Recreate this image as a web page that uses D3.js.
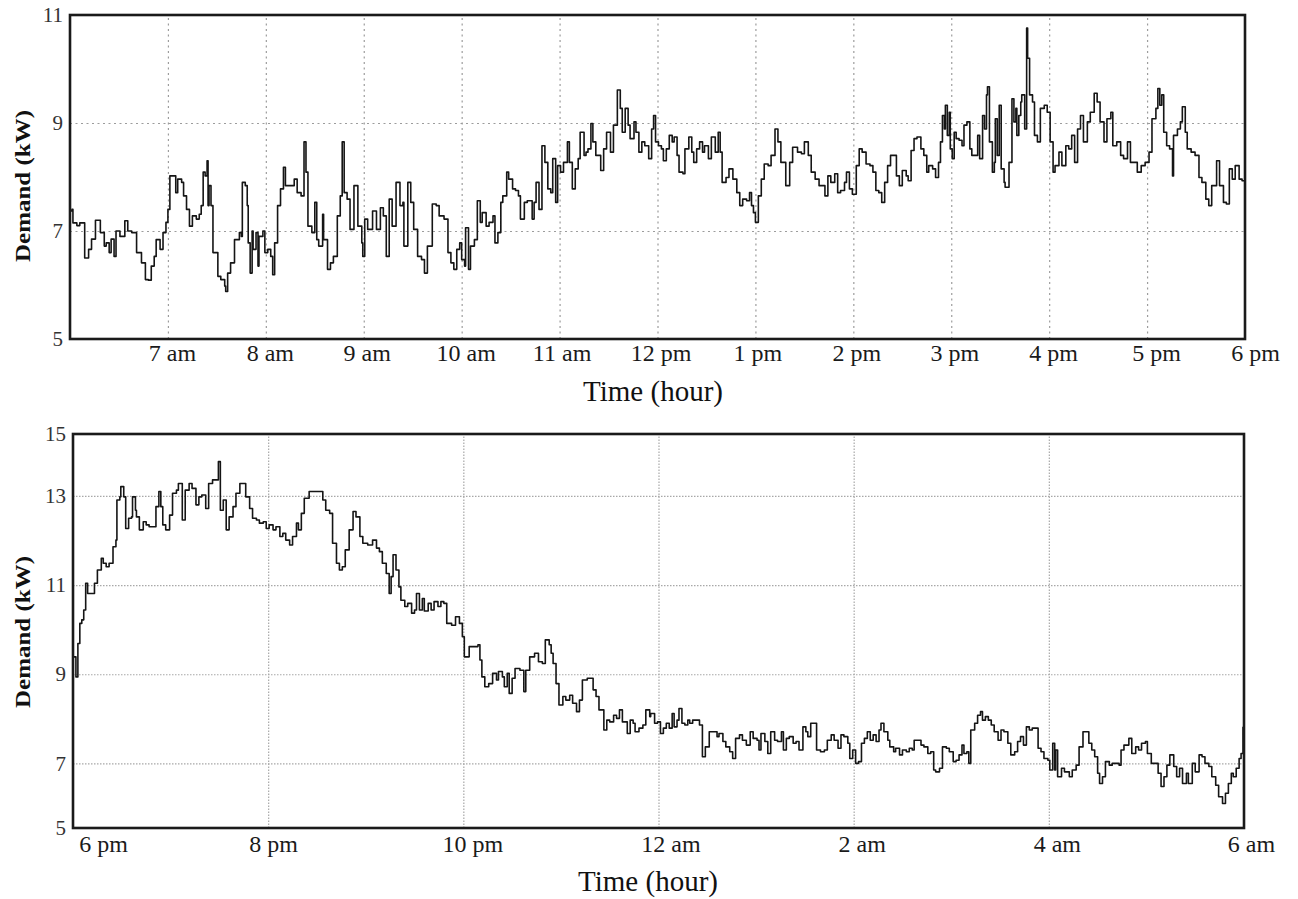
<!DOCTYPE html>
<html><head><meta charset="utf-8">
<script src="https://cdn.jsdelivr.net/npm/d3@7"></script>
<style>
body{margin:0;background:#fff;}
text{font-family:"Liberation Serif","Times New Roman",serif;}
</style>
</head><body>
<svg id="c" width="1298" height="899"></svg>
<script>
// ---------- DATA ----------
// Daytime panel: hours (6 = 6 am, 18 = 6 pm), demand in kW
const topHours = [6.00,6.02,6.03,6.07,6.10,6.15,6.19,6.22,6.26,6.31,6.35,6.37,6.40,6.42,6.45,6.47,6.51,6.56,6.59,6.63,6.68,6.73,6.77,6.80,6.83,6.86,6.88,6.92,6.95,6.98,
7.00,7.02,7.05,7.08,7.10,7.14,7.16,7.19,7.22,7.25,7.29,7.32,7.34,7.36,7.38,7.40,7.41,7.42,7.44,7.46,7.51,7.54,7.58,7.59,7.61,7.64,7.68,7.73,7.75,7.76,7.79,7.81,7.82,7.84,7.86,7.87,7.90,7.92,7.93,7.97,7.99,
8.02,8.05,8.07,8.09,8.12,8.15,8.18,8.20,8.25,8.29,8.32,8.36,8.39,8.41,8.43,8.47,8.50,8.52,8.54,8.58,8.59,8.63,8.66,8.69,8.73,8.76,8.78,8.80,8.83,8.86,8.90,
8.94,8.98,8.99,9.01,9.04,9.09,9.13,9.17,9.20,9.23,9.26,9.29,9.33,9.37,9.40,9.41,9.45,9.48,9.51,9.55,9.59,9.62,9.65,9.70,9.74,9.77,9.82,9.86,9.89,9.92,9.95,9.98,
10.00,10.03,10.04,10.07,10.09,10.13,10.16,10.19,10.21,10.25,10.28,10.32,10.34,10.37,10.40,10.42,10.46,10.48,10.52,10.55,10.58,10.60,10.64,10.67,10.72,10.74,10.76,10.79,10.82,10.85,10.88,10.91,10.93,10.96,10.98,
11.01,11.04,11.08,11.10,11.13,11.16,11.19,11.21,11.25,11.27,11.29,11.32,11.34,11.37,11.42,11.45,11.48,11.52,11.55,11.59,11.62,11.64,11.67,11.70,11.72,11.76,11.78,11.81,11.84,11.87,11.91,
11.94,11.96,11.98,12.01,12.04,12.06,12.09,12.12,12.15,12.17,12.20,12.22,12.26,12.28,12.32,12.35,12.37,12.40,12.43,12.46,12.48,12.52,12.55,12.59,12.62,12.64,12.66,12.70,12.73,12.77,12.81,12.84,12.87,12.91,12.94,12.96,12.98,
13.00,13.03,13.06,13.09,13.13,13.16,13.20,13.23,13.26,13.31,13.35,13.38,13.43,13.47,13.50,13.54,13.57,13.61,13.65,13.71,13.74,13.77,13.81,13.84,13.87,13.91,13.93,13.96,13.99,
14.03,14.06,14.09,14.13,14.17,14.20,14.23,14.26,14.29,14.32,14.35,14.38,14.42,14.44,14.47,14.50,14.54,14.56,14.59,14.62,14.65,14.69,14.72,14.75,14.77,14.81,
14.84,14.87,14.89,14.91,14.93,14.94,14.96,14.98,14.99,15.01,15.03,15.05,15.08,15.11,15.13,15.16,15.19,15.21,15.25,15.27,15.29,15.32,15.34,15.36,15.37,15.39,15.42,15.44,15.45,15.47,15.49,15.51,15.54,15.55,15.59,
15.62,15.64,15.66,15.67,15.69,15.71,15.72,15.75,15.77,15.78,15.80,15.83,15.85,15.88,15.91,15.95,15.98,
16.01,16.04,16.06,16.10,16.13,16.17,16.20,16.23,16.26,16.29,16.32,16.35,16.39,16.42,16.46,16.49,16.52,16.56,16.59,16.63,16.65,16.69,16.73,16.76,16.80,16.83,16.87,16.90,16.94,16.98,
17.02,17.05,17.09,17.11,17.13,17.15,17.17,17.20,17.23,17.26,17.27,17.31,17.34,17.36,17.39,17.41,17.45,17.49,17.53,17.56,17.60,17.63,17.66,17.71,17.74,17.78,17.81,17.84,17.87,17.90,17.94,17.97,18.00];
const topDemand = [7.37,7.40,7.15,7.10,7.15,6.50,6.66,6.85,7.20,6.97,6.72,6.78,6.60,6.85,6.53,7.00,6.90,7.19,7.00,6.97,6.60,6.41,6.10,6.09,6.35,6.53,6.84,6.66,6.97,7.16,
7.40,8.02,8.02,7.71,7.96,7.90,7.65,7.40,7.09,7.28,7.22,7.31,7.47,8.09,8.02,8.30,7.47,7.84,7.47,6.60,6.16,6.10,5.98,5.88,6.22,6.41,6.84,6.97,6.90,7.90,7.84,7.47,6.78,6.22,7.00,6.66,6.97,6.35,6.90,7.00,6.60,
6.66,6.53,6.19,6.78,7.47,7.78,8.18,7.84,7.84,7.96,7.71,7.65,8.65,8.09,7.09,6.97,7.53,6.84,6.72,7.31,6.84,6.29,6.41,6.53,7.28,7.65,8.65,7.71,7.59,7.03,7.84,
7.09,6.78,6.53,7.22,7.03,7.37,7.03,7.43,7.28,6.53,7.59,7.09,7.90,7.47,7.53,6.72,7.90,7.53,7.03,6.53,6.47,6.22,6.72,7.50,7.47,7.28,7.22,6.60,6.41,6.29,6.66,6.78,
6.47,6.35,7.06,6.29,6.72,6.84,7.56,7.16,7.34,7.09,7.16,7.28,6.78,6.97,7.53,7.65,8.09,7.96,7.78,7.75,7.65,7.22,7.53,7.56,7.22,7.53,7.90,7.40,8.58,8.27,7.78,7.71,8.34,7.53,8.21,
8.09,8.27,8.65,8.27,7.78,8.15,8.34,8.83,8.40,8.46,8.52,8.99,8.65,8.40,8.12,8.52,8.83,8.46,8.96,9.61,9.27,8.83,9.27,8.96,8.71,9.02,8.83,8.46,8.65,8.58,8.34,
8.89,9.14,8.65,8.58,8.52,8.30,8.52,8.77,8.65,8.74,8.40,8.09,8.06,8.52,8.74,8.46,8.27,8.52,8.65,8.46,8.58,8.34,8.74,8.46,8.83,8.46,7.90,7.99,8.15,7.96,7.71,7.47,7.59,7.56,7.71,7.47,7.34,
7.16,7.65,7.96,8.24,8.21,8.40,8.89,8.65,8.27,7.84,8.27,8.55,8.46,8.43,8.65,8.40,8.09,7.96,7.84,7.65,8.02,7.90,8.06,7.71,7.75,7.90,8.09,7.78,7.68,
8.21,8.52,8.46,8.24,8.21,8.09,7.75,7.71,7.53,7.90,8.21,8.40,8.40,8.02,7.84,8.12,8.02,7.93,8.49,8.71,8.74,8.52,8.40,8.09,8.21,8.15,
7.99,8.27,8.65,9.14,8.89,9.33,8.77,9.20,8.52,8.34,8.83,8.71,8.68,8.58,8.96,9.02,8.52,8.40,8.40,8.77,8.34,9.14,8.89,9.52,9.67,8.65,8.09,8.27,9.08,8.40,9.33,8.15,7.90,7.81,8.27,
9.45,9.02,9.27,8.77,9.14,9.39,9.52,8.89,10.76,10.20,9.52,9.39,8.77,8.65,9.27,9.33,9.20,
8.65,8.09,8.21,8.46,8.21,8.58,8.52,8.77,8.27,8.89,9.14,8.65,9.02,9.20,9.55,9.39,9.02,8.65,9.08,9.20,8.58,8.65,8.40,8.34,8.65,8.27,8.27,8.09,8.21,8.27,
8.46,9.08,9.27,9.64,9.33,9.52,8.83,8.58,8.52,8.02,8.77,8.89,9.02,9.30,8.83,8.52,8.46,8.40,7.99,7.90,7.59,7.47,7.84,8.30,7.84,7.53,7.50,8.15,7.96,8.21,7.96,7.93,7.90];

// Night panel: hours (18 = 6 pm, 24 = midnight, 30 = 6 am), demand in kW
const bottomHours = [18.00,18.03,18.05,18.07,18.09,18.11,18.13,18.15,18.19,18.22,18.25,18.29,18.31,18.34,18.37,18.41,18.44,18.45,18.48,18.49,18.52,18.54,18.57,18.60,18.61,18.64,18.65,18.68,18.72,18.75,18.78,18.82,18.85,18.88,18.90,18.92,18.95,18.99,
19.02,19.06,19.08,19.12,19.15,19.19,19.22,19.26,19.29,19.32,19.36,19.39,19.43,19.46,19.49,19.51,19.54,19.57,19.60,19.64,19.67,19.71,19.74,19.77,19.81,19.84,19.88,19.91,19.95,19.98,
20.01,20.05,20.08,20.12,20.15,20.18,20.22,20.25,20.29,20.31,20.34,20.37,20.42,20.47,20.52,20.56,20.59,20.63,20.66,20.70,20.73,20.76,20.79,20.83,20.87,20.90,20.94,
20.97,21.02,21.07,21.11,21.14,21.17,21.21,21.24,21.26,21.28,21.31,21.34,21.36,21.40,21.43,21.47,21.50,21.52,21.55,21.58,21.60,21.64,21.67,21.70,21.74,21.77,21.80,21.83,21.88,21.92,21.96,21.99,
22.01,22.04,22.06,22.10,22.15,22.17,22.19,22.22,22.26,22.30,22.34,22.36,22.40,22.42,22.45,22.47,22.50,22.53,22.58,22.62,22.64,22.68,22.73,22.77,22.81,22.84,22.88,22.90,22.92,22.95,22.98,
23.02,23.05,23.09,23.12,23.16,23.19,23.22,23.27,23.30,23.33,23.36,23.39,23.44,23.47,23.50,23.54,23.57,23.60,23.63,23.68,23.71,23.74,23.76,23.80,23.84,23.87,23.91,
23.92,23.96,23.99,24.02,24.05,24.08,24.11,24.14,24.16,24.19,24.21,24.24,24.27,24.30,24.32,24.35,24.39,24.42,24.45,24.48,24.52,24.56,24.60,24.62,24.66,24.69,24.73,24.76,24.79,24.83,24.86,24.90,24.94,24.97,
25.01,25.03,25.05,25.09,25.12,25.15,25.19,25.22,25.26,25.28,25.31,25.34,25.38,25.41,25.44,25.48,25.51,25.53,25.56,25.59,25.62,25.66,25.70,25.73,25.77,25.80,25.84,25.87,25.90,25.94,25.96,25.99,
26.02,26.05,26.08,26.11,26.14,26.17,26.20,26.23,26.26,26.28,26.31,26.35,26.37,26.41,26.43,26.47,26.50,26.54,26.57,26.60,26.62,26.66,26.69,26.72,26.76,26.79,26.82,26.84,26.88,
26.91,26.95,26.98,27.02,27.05,27.08,27.11,27.13,27.16,27.18,27.20,27.24,27.27,27.30,27.32,27.35,27.38,27.41,27.44,27.48,27.51,27.54,27.58,27.61,27.65,27.68,27.71,27.74,27.77,27.80,27.83,27.86,27.89,27.92,27.95,27.99,
28.01,28.04,28.06,28.07,28.09,28.13,28.16,28.21,28.24,28.28,28.31,28.35,28.38,28.41,28.44,28.47,28.50,28.52,28.55,28.58,28.62,28.65,28.68,28.72,28.74,28.77,28.82,28.85,28.89,28.92,28.95,28.99,
29.01,29.05,29.08,29.12,29.15,29.18,29.21,29.24,29.28,29.31,29.34,29.37,29.41,29.43,29.47,29.50,29.54,29.57,29.60,29.64,29.67,29.71,29.74,29.78,29.81,29.84,29.87,29.89,29.92,29.95,29.97,29.99];
const bottomDemand = [9.39,8.94,9.69,10.14,10.22,10.44,11.04,10.81,10.81,11.04,11.34,11.60,11.49,11.41,11.49,11.86,12.01,12.91,12.98,13.21,12.98,12.27,12.50,12.53,12.98,12.68,12.53,12.24,12.42,12.35,12.31,12.31,12.76,13.10,12.76,12.35,12.24,12.57,
13.06,13.13,13.28,12.46,13.13,13.28,13.17,12.80,12.98,13.02,12.72,13.28,13.36,13.36,13.77,12.68,12.91,12.24,12.53,12.76,13.06,13.28,13.28,12.98,12.72,12.50,12.46,12.39,12.42,12.27,
12.35,12.24,12.31,12.09,12.16,12.01,11.90,12.09,12.39,12.24,12.61,12.95,13.10,13.10,13.10,12.91,12.68,12.61,11.94,11.49,11.34,11.41,11.79,12.24,12.65,12.53,12.09,
11.94,11.90,12.01,11.83,11.75,11.49,11.26,10.81,11.19,11.68,11.34,10.96,10.66,10.52,10.59,10.37,10.44,10.81,10.44,10.70,10.42,10.59,10.44,10.63,10.52,10.63,10.59,10.14,10.10,10.29,10.14,9.84,
9.39,9.39,9.62,9.62,9.66,9.32,8.94,8.72,8.79,9.02,8.87,9.06,8.94,8.72,9.02,8.57,8.91,9.13,9.09,8.61,9.09,9.39,9.47,9.28,9.24,9.77,9.66,9.47,9.24,8.79,8.31,
8.50,8.42,8.53,8.35,8.16,8.42,8.87,8.91,8.91,8.65,8.50,8.20,7.75,7.97,7.93,8.08,8.01,8.20,7.93,7.67,7.97,7.90,7.71,7.79,7.86,8.20,8.05,
8.12,7.90,7.93,7.67,7.79,7.90,7.79,8.12,7.82,7.97,8.23,7.90,7.86,7.97,7.90,7.97,7.97,7.86,7.15,7.37,7.71,7.71,7.60,7.67,7.49,7.37,7.26,7.11,7.56,7.64,7.52,7.41,7.71,7.56,
7.52,7.30,7.67,7.49,7.22,7.71,7.52,7.49,7.71,7.30,7.56,7.60,7.45,7.49,7.30,7.82,7.71,7.60,7.90,7.90,7.30,7.26,7.30,7.52,7.64,7.52,7.34,7.64,7.60,7.45,7.11,7.30,
7.00,7.04,7.45,7.56,7.71,7.52,7.64,7.49,7.75,7.90,7.71,7.52,7.37,7.26,7.34,7.19,7.30,7.26,7.34,7.30,7.52,7.52,7.41,7.37,7.22,7.26,6.85,6.81,6.89,
7.37,7.34,7.26,7.04,7.07,7.19,7.41,7.22,7.26,7.00,7.75,7.90,8.08,8.16,7.97,8.05,7.97,7.86,7.71,7.52,7.75,7.71,7.45,7.19,7.26,7.49,7.60,7.41,7.82,7.75,7.79,7.79,7.34,7.26,7.11,7.07,
6.85,7.45,6.85,7.30,6.70,6.89,6.81,6.70,6.85,6.96,7.37,7.71,7.71,7.45,7.30,7.15,6.78,6.55,6.70,7.04,6.96,7.00,7.00,6.96,7.30,7.41,7.56,7.22,7.37,7.30,7.45,7.49,
7.22,7.00,7.00,6.78,6.48,6.70,6.96,7.19,6.93,6.70,6.89,6.55,6.78,6.55,7.00,6.81,7.19,7.15,7.00,6.93,6.70,6.51,6.25,6.10,6.33,6.55,6.78,6.70,6.89,7.11,7.22,7.82];

// Axis ticks and labels
const topXTicks = [7,8,9,10,11,12,13,14,15,16,17,18];
const topXLabels = ["7 am","8 am","9 am","10 am","11 am","12 pm","1 pm","2 pm","3 pm","4 pm","5 pm","6 pm"];
const topYTicks = [5,7,9,11];
const topYLabels = ["5","7","9","11"];
const bottomXTicks = [18,20,22,24,26,28,30];
const bottomXLabels = ["6 pm","8 pm","10 pm","12 am","2 am","4 am","6 am"];
const bottomYTicks = [5.55,7,9,11,13,14.39];
const bottomYLabels = ["5","7","9","11","13","15"];
const xTitle = "Time (hour)";
const yTitle = "Demand (kW)";

// ---------- DRAW ----------
const svg = d3.select("#c");

function panel(cfg){
  const x = d3.scaleLinear().domain(cfg.xDomain).range([cfg.left, cfg.right]);
  const y = d3.scaleLinear().domain(cfg.yDomain).range([cfg.bottom, cfg.top]);
  const g = svg.append("g");
  const H = cfg.bottom - cfg.top, W = cfg.right - cfg.left;

  // vertical grid
  g.append("g").attr("transform",`translate(0,${cfg.bottom})`)
    .call(d3.axisBottom(x).tickValues(cfg.xTicks.filter(t=>t>cfg.xDomain[0] && t<cfg.xDomain[1])).tickSize(-H).tickFormat(""))
    .call(s=>s.select(".domain").remove())
    .selectAll("line").attr("stroke",cfg.gridColor).attr("stroke-width",cfg.gridWidth).attr("stroke-dasharray",cfg.dash);
  // horizontal grid
  g.append("g").attr("transform",`translate(${cfg.left},0)`)
    .call(d3.axisLeft(y).tickValues(cfg.yTicks.filter(t=>t>cfg.yDomain[0]+0.01 && t<cfg.yDomain[1]-0.01)).tickSize(-W).tickFormat(""))
    .call(s=>s.select(".domain").remove())
    .selectAll("line").attr("stroke",cfg.gridColor).attr("stroke-width",cfg.gridWidth).attr("stroke-dasharray",cfg.dash);

  // data line (stair-like trace)
  g.append("path")
    .datum(d3.zip(cfg.hours, cfg.values))
    .attr("fill","none").attr("stroke","#151515").attr("stroke-width",1.6).attr("stroke-linejoin","round")
    .attr("d", d3.line().curve(d3.curveStepAfter).x(d=>x(d[0])).y(d=>y(d[1])));

  // frame
  g.append("rect").attr("x",cfg.left).attr("y",cfg.top).attr("width",W).attr("height",H)
    .attr("fill","none").attr("stroke","#1a1a1a").attr("stroke-width",2.6);

  // x tick labels
  const xa = g.append("g").attr("transform",`translate(0,${cfg.bottom})`)
    .call(d3.axisBottom(x).tickValues(cfg.xTicks).tickSize(0).tickPadding(cfg.xPad)
      .tickFormat((d,i)=>cfg.xLabels[i]));
  xa.select(".domain").remove();
  xa.selectAll("text").attr("font-size",cfg.xFont).attr("fill","#1a1a1a")
    .attr("font-family","'Liberation Serif',serif")
    .attr("dx",(d,i)=>cfg.xDx[i]);

  // y tick labels
  const ya = g.append("g").attr("transform",`translate(${cfg.left},0)`)
    .call(d3.axisLeft(y).tickValues(cfg.yTicks).tickSize(0).tickPadding(7)
      .tickFormat((d,i)=>cfg.yLabels[i]));
  ya.select(".domain").remove();
  ya.selectAll("text").attr("font-size",21).attr("fill","#333").attr("font-family","'Liberation Serif',serif");

  // axis titles
  g.append("text").attr("x",cfg.xTitleX).attr("y",cfg.xTitleY).attr("text-anchor","middle")
    .attr("font-size",29).attr("fill","#111").text(xTitle);
  g.append("text").attr("transform",`translate(${22},${cfg.yTitleY}) rotate(-90)`)
    .attr("text-anchor","middle").attr("dominant-baseline","central")
    .attr("font-size",22).attr("font-weight","bold").attr("fill","#111")
    .attr("textLength",152).attr("lengthAdjust","spacingAndGlyphs").text(yTitle);
}

panel({
  left:70, right:1245, top:15, bottom:339,
  xDomain:[6,18], yDomain:[5,11],
  hours:topHours, values:topDemand,
  xTicks:topXTicks, xLabels:topXLabels, xDx:[4,4,3,4,2,3,2,3,3,4,9,10],
  yTicks:topYTicks, yLabels:topYLabels,
  gridColor:"#9c9c9c", gridWidth:1.2, dash:"2,3.5",
  xPad:5, xFont:24,
  xTitleX:653, xTitleY:401, yTitleY:186
});

panel({
  left:73, right:1244, top:434, bottom:828,
  xDomain:[18,30], yDomain:[5.55,14.39],
  hours:bottomHours, values:bottomDemand,
  xTicks:bottomXTicks, xLabels:bottomXLabels, xDx:[30,5,9,12,8,8,7],
  yTicks:bottomYTicks, yLabels:bottomYLabels,
  gridColor:"#a8a8a8", gridWidth:1.2, dash:"1.5,1.5",
  xPad:7, xFont:24,
  xTitleX:648, xTitleY:891, yTitleY:632
});
</script>
</body></html>
